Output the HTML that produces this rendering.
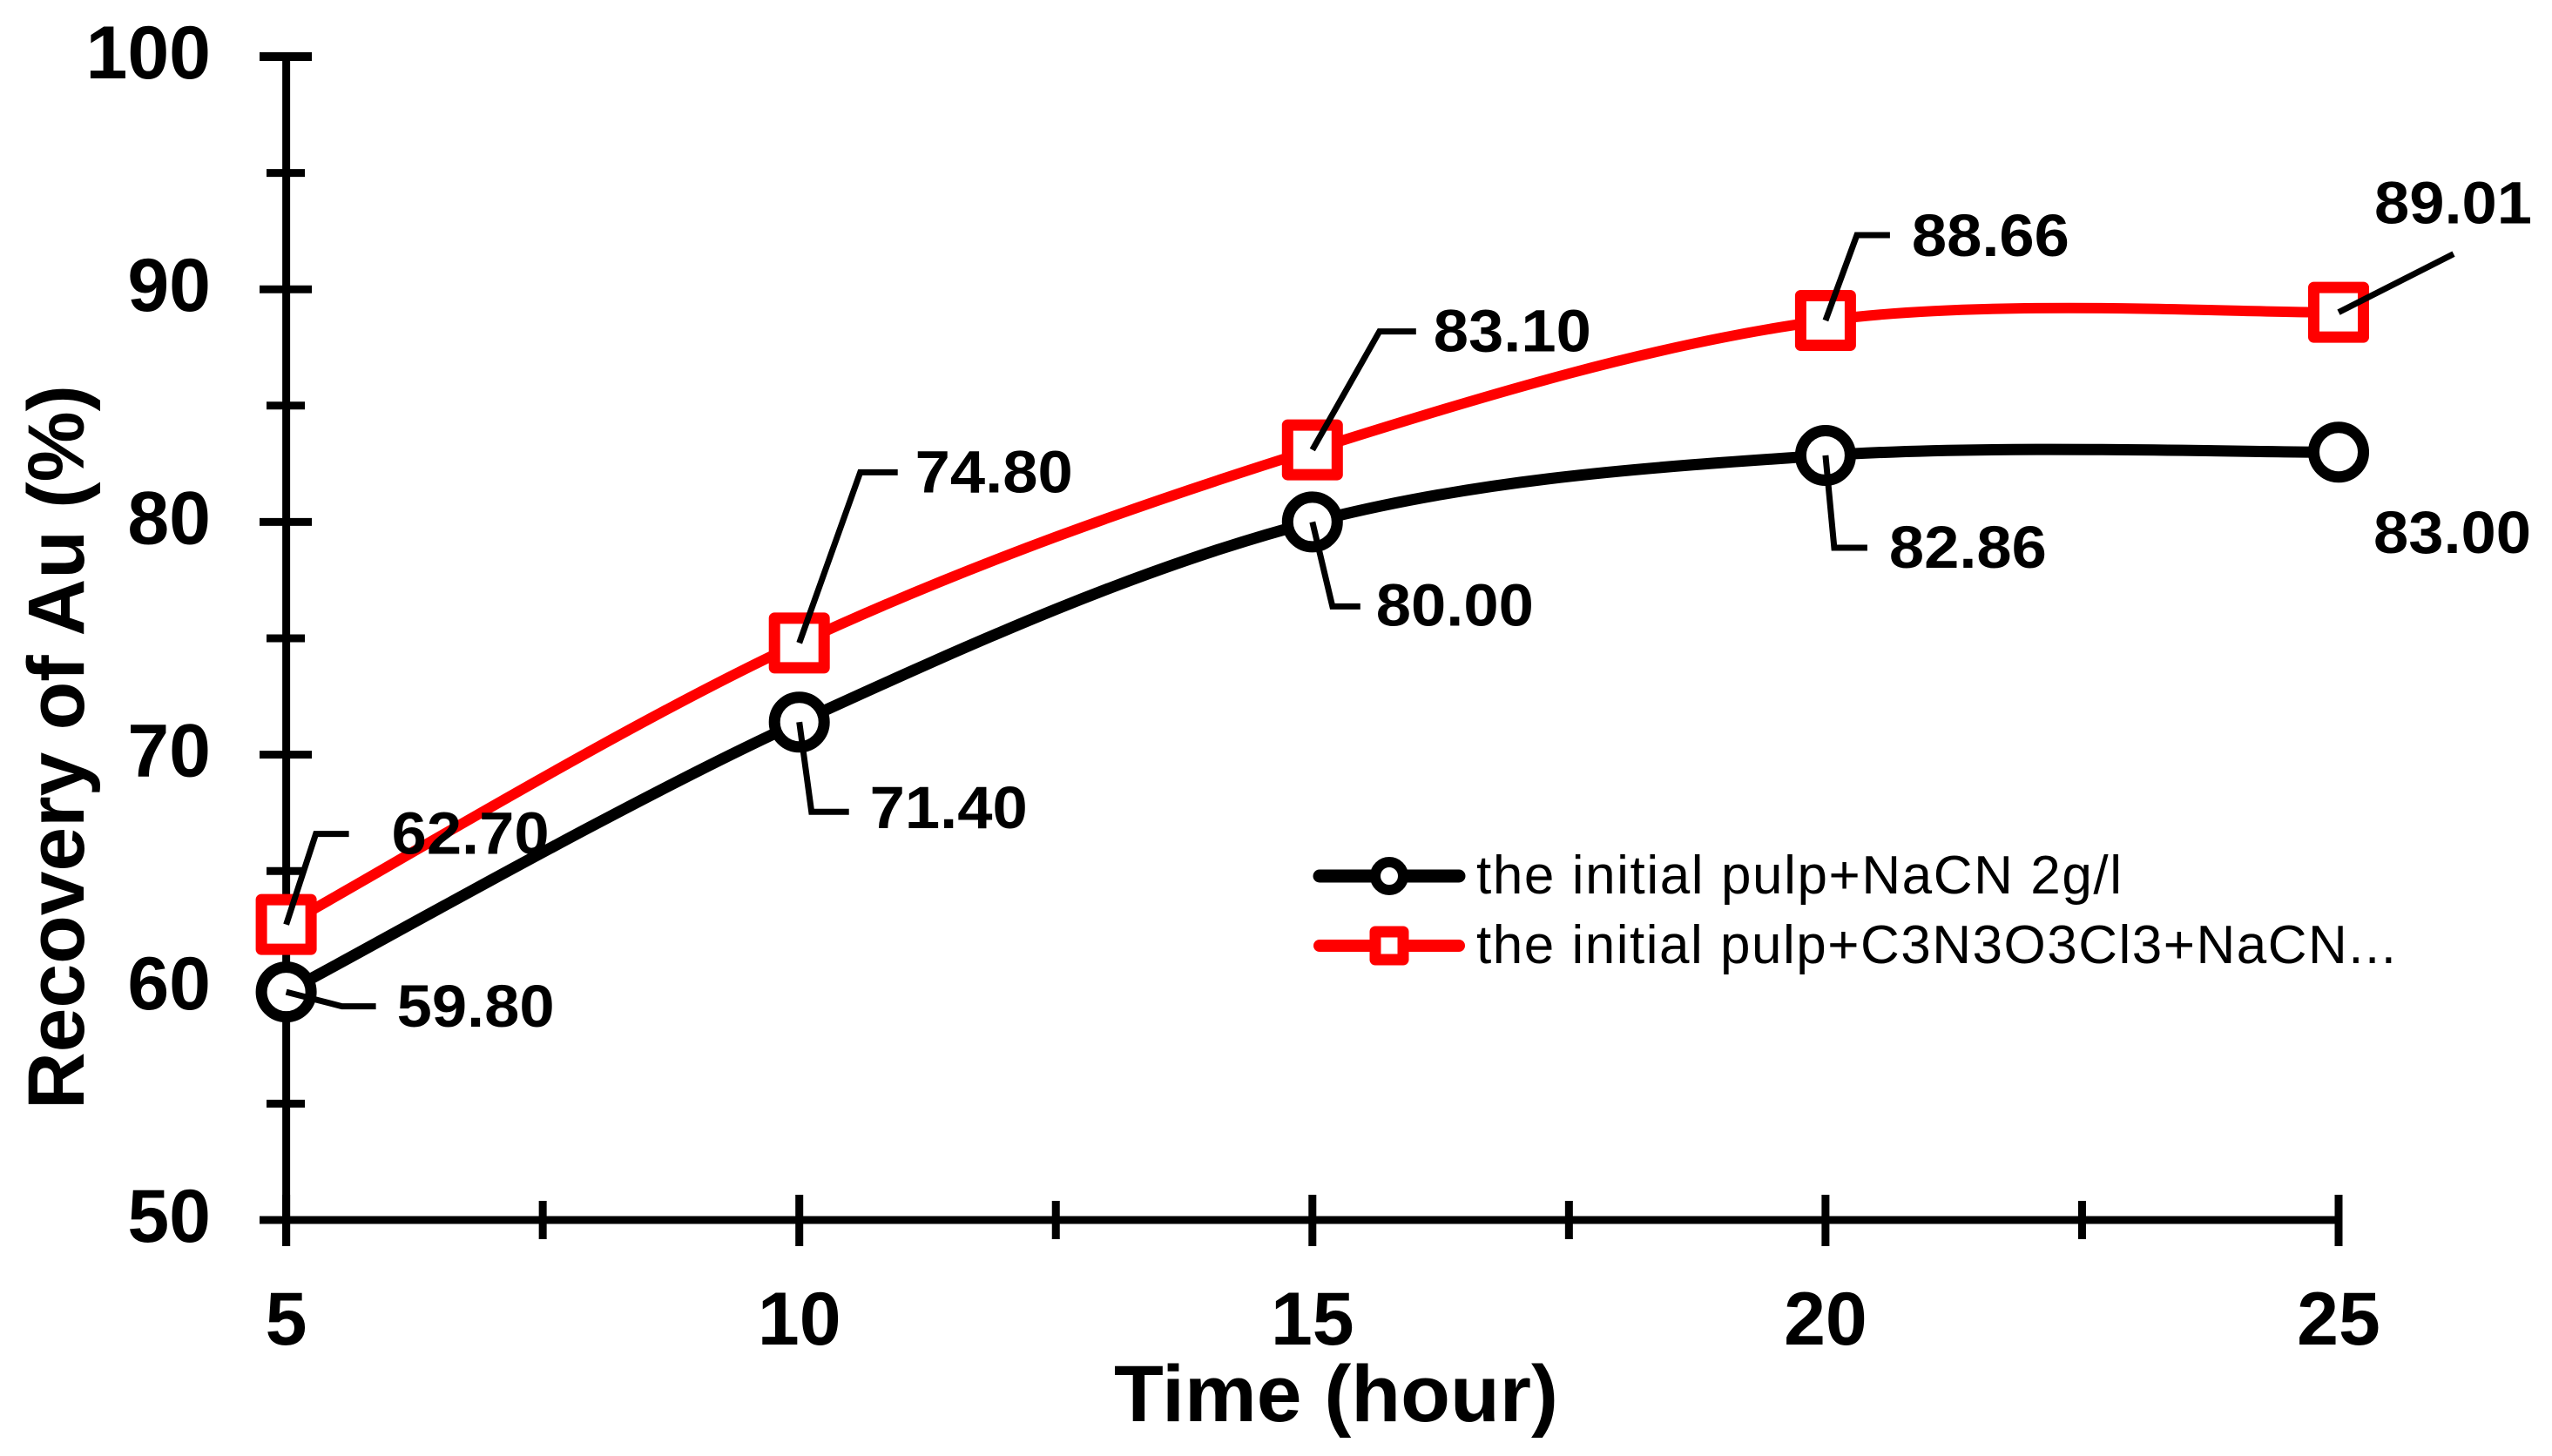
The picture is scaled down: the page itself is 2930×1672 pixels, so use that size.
<!DOCTYPE html>
<html lang="en">
<head>
<meta charset="utf-8">
<title>Recovery of Au over time</title>
<style>
  html, body { margin: 0; padding: 0; background: #fff; }
  svg { display: block; }
  text { font-family: "Liberation Sans", Arial, sans-serif; fill: #000; }
  .tick { font-size: 86px; font-weight: bold; }
  .dl { font-size: 69px; font-weight: bold; }
  .leg { font-size: 62px; }
  .title { font-size: 92px; font-weight: bold; }
</style>
</head>
<body>
<svg id="chart" xmlns="http://www.w3.org/2000/svg" width="2930" height="1672" viewBox="0 0 2930 1672">
  <rect x="0" y="0" width="2930" height="1672" fill="#fff"/>
  <g id="axes"></g>
  <g id="lines"></g>
  <g id="markers"></g>
  <g id="labels"></g>
  <text class="title" transform="translate(96 858) rotate(-90)" text-anchor="middle" textLength="832" lengthAdjust="spacingAndGlyphs">Recovery of Au (%)</text>
  <text class="title" x="1534" y="1632" text-anchor="middle" textLength="510" lengthAdjust="spacingAndGlyphs">Time (hour)</text>
  <g>
    <g>
      <line x1="1515" y1="1006" x2="1675" y2="1006" stroke="#000" stroke-width="15" stroke-linecap="round"/>
      <circle cx="1595" cy="1006" r="16" fill="#fff" stroke="#000" stroke-width="12"/>
      <text class="leg" x="1695" y="1026" textLength="741" lengthAdjust="spacing">the initial pulp+NaCN 2g/l</text>
    </g>
    <g>
      <line x1="1515" y1="1086" x2="1675" y2="1086" stroke="#f00" stroke-width="14" stroke-linecap="round"/>
      <rect x="1579" y="1070" width="32" height="32" fill="#fff" stroke="#f00" stroke-width="13" stroke-linejoin="round"/>
      <text class="leg" x="1695" y="1106" textLength="1056" lengthAdjust="spacing">the initial pulp+C3N3O3Cl3+NaCN...</text>
    </g>
  </g>
</svg>
<script>
const hours = [5, 10, 15, 20, 25];
const recoveryNaCN = [59.80, 71.40, 80.00, 82.86, 83.00];
const recoveryC3N3O3Cl3 = [62.70, 74.80, 83.10, 88.66, 89.01];
const xTickLabels = [5, 10, 15, 20, 25];
const xMinorTicks = [7.5, 12.5, 17.5, 22.5];
const yTickLabels = [50, 60, 70, 80, 90, 100];
const yMinorTicks = [55, 65, 75, 85, 95];

const xScale = v => 328.6 + (v - 5) * 117.82;
const yScale = v => 1401 - (v - 50) * 26.72;

const NS = 'http://www.w3.org/2000/svg';
function mk(tag, parent, attrs) {
  const node = document.createElementNS(NS, tag);
  for (const k in attrs) node.setAttribute(k, attrs[k]);
  parent.appendChild(node);
  return node;
}
const axes = document.getElementById('axes');
const lines = document.getElementById('lines');
const markers = document.getElementById('markers');
const labels = document.getElementById('labels');

// axis lines
let el = mk('line', axes, {x1: xScale(5), y1: yScale(100) - 5, x2: xScale(5), y2: 1431, stroke: '#000', 'stroke-width': 9});


el = mk('line', axes, {x1: 298, y1: yScale(50), x2: xScale(25) + 4, y2: yScale(50), stroke: '#000', 'stroke-width': 9});



// y ticks
yTickLabels.forEach(v => {
  if (v !== 50) {
    const t = mk('line', axes, {x1: 298, y1: yScale(v), x2: 358, y2: yScale(v), stroke: '#000', 'stroke-width': v === 100 ? 10 : 9});
    
    
  }
  const l = mk('text', axes, {class: 'tick', x: 242, y: yScale(v) + 25, 'text-anchor': 'end'});
  l.textContent = v;
  
  
});
yMinorTicks.forEach(v => {
  const t = mk('line', axes, {x1: 306, y1: yScale(v), x2: 350, y2: yScale(v), stroke: '#000', 'stroke-width': 9});
  
  
});

// x ticks
xTickLabels.forEach(v => {
  const t = mk('line', axes, {x1: xScale(v), y1: 1372, x2: xScale(v), y2: 1431, stroke: '#000', 'stroke-width': 9});
  
  
  const l = mk('text', axes, {class: 'tick', x: xScale(v), y: 1544, 'text-anchor': 'middle'});
  l.textContent = v;
  
  
});
xMinorTicks.forEach(v => {
  const t = mk('line', axes, {x1: xScale(v), y1: 1379, x2: xScale(v), y2: 1423, stroke: '#000', 'stroke-width': 9});
  
  
});

// smoothed curve through the points (Catmull-Rom to Bezier)
function smoothPath(values) {
  const p = values.map((v, i) => [xScale(hours[i]), yScale(v)]);
  let d = 'M' + p[0][0] + ' ' + p[0][1];
  for (let i = 0; i < p.length - 1; i++) {
    const a = p[Math.max(i - 1, 0)], b = p[i], c = p[i + 1], e = p[Math.min(i + 2, p.length - 1)];
    d += ' C' + (b[0] + (c[0] - a[0]) / 6) + ' ' + (b[1] + (c[1] - a[1]) / 6) + ' ' +
         (c[0] - (e[0] - b[0]) / 6) + ' ' + (c[1] - (e[1] - b[1]) / 6) + ' ' + c[0] + ' ' + c[1];
  }
  return d;
}

el = mk('path', lines, {d: smoothPath(recoveryNaCN), fill: 'none', stroke: '#000', 'stroke-width': 13});


el = mk('path', lines, {d: smoothPath(recoveryC3N3O3Cl3), fill: 'none', stroke: '#f00', 'stroke-width': 12});



// markers
recoveryNaCN.forEach((v, i) => {
  const m = mk('circle', markers, {cx: xScale(hours[i]), cy: yScale(v), r: 28.5, fill: '#fff', stroke: '#000', 'stroke-width': 13});
  
  
});
recoveryC3N3O3Cl3.forEach((v, i) => {
  const m = mk('rect', markers, {x: xScale(hours[i]) - 28.5, y: yScale(v) - 28.5, width: 57, height: 57, fill: '#fff', stroke: '#f00', 'stroke-width': 13, 'stroke-linejoin': 'round'});
  
  
});

// label layout, as offsets from each point: leader elbow, leader end, text start, text baseline
const layoutNaCN = [
  {ex: 64, ey: 16.5, lx: 103, tx: 127, ty: 40},
  {ex: 14, ey: 103, lx: 57, tx: 81, ty: 122},
  {ex: 23, ey: 97, lx: 55, tx: 73, ty: 119},
  {ex: 10, ey: 106, lx: 48, tx: 73, ty: 129},
  {tx: 40, ty: 116}
];
const layoutC3 = [
  {ex: 34, ey: -104, lx: 72, tx: 121, ty: -81},
  {ex: 70, ey: -196, lx: 113, tx: 133, ty: -173},
  {ex: 77, ey: -136, lx: 119, tx: 139, ty: -113},
  {ex: 36, ey: -98, lx: 74, tx: 99, ty: -74},
  {ex: 132, ey: -67, tx: 41, ty: -102}
];

function drawLabels(values, layout, series) {
  values.forEach((v, i) => {
    const x = xScale(hours[i]), y = yScale(v), o = layout[i];
    if (o.ex !== undefined) {
      let pts = x + ',' + y + ' ' + (x + o.ex) + ',' + (y + o.ey);
      if (o.lx !== undefined) pts += ' ' + (x + o.lx) + ',' + (y + o.ey);
      const leader = mk('polyline', labels, {points: pts, fill: 'none', stroke: '#000', 'stroke-width': 7});
      
      
    }
    const t = mk('text', labels, {class: 'dl', x: x + o.tx, y: y + o.ty, textLength: 181, lengthAdjust: 'spacingAndGlyphs'});
    t.textContent = v.toFixed(2);
    
    
  });
}
drawLabels(recoveryNaCN, layoutNaCN, 'naCN');
drawLabels(recoveryC3N3O3Cl3, layoutC3, 'c3n3o3cl3');
</script>
</body>
</html>
